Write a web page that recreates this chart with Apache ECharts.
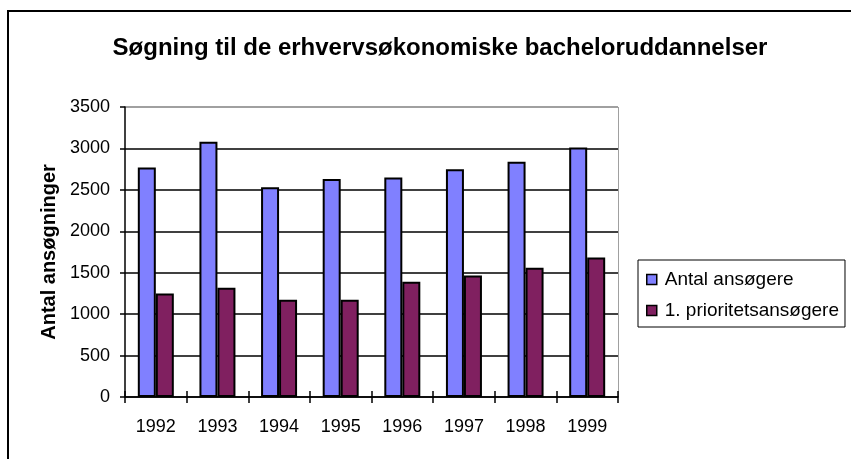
<!DOCTYPE html>
<html>
<head>
<meta charset="utf-8">
<script src="https://cdn.jsdelivr.net/npm/echarts@6/dist/echarts.min.js"></script>
<style>
html, body { margin: 0; padding: 0; background: #fff; }
#report { width: 851px; height: 459px; }
</style>
</head>
<body>
<div id="report"></div>
<script>
// data
var years = ['1992', '1993', '1994', '1995', '1996', '1997', '1998', '1999'];
var antalAnsogere = [2770, 3080, 2530, 2630, 2650, 2750, 2840, 3010];
var prioritetsAnsogere = [1250, 1320, 1175, 1175, 1390, 1465, 1560, 1685];
var yTicks = [0, 500, 1000, 1500, 2000, 2500, 3000, 3500];

var font = '"Liberation Sans", Arial, sans-serif';

var myChart = echarts.init(document.getElementById('report'));

// top line of plot area is grey (plot border), the rest black
var splitColors = yTicks.map(function (v, i) {
    return i === yTicks.length - 1 ? '#808080' : '#000';
});

var option = {
    animation: false,
    backgroundColor: '#fff',
    title: {
        text: 'Søgning til de erhvervsøkonomiske bacheloruddannelser',
        left: 435,
        top: 31,
        textAlign: 'center',
        textStyle: { fontFamily: font, fontSize: 24, fontWeight: 'bold', color: '#000' }
    },
    graphic: [{
        type: 'rect',
        shape: { x: 8, y: 11, width: 900, height: 500 },
        style: { fill: 'none', stroke: '#000', lineWidth: 2 },
        z: -1
    }, {
        // right edge of plot area
        type: 'line',
        shape: { x1: 618.5, y1: 107, x2: 618.5, y2: 397 },
        style: { stroke: '#a0a0a0', lineWidth: 1 },
        z: -1
    }],
    legend: {
        orient: 'vertical',
        left: 638,
        top: 260,
        padding: [10, 6, 7, 8],
        itemGap: 12,
        itemWidth: 10,
        itemHeight: 10,
        icon: 'rect',
        borderColor: '#000',
        borderWidth: 1,
        textStyle: { fontFamily: font, fontSize: 19, color: '#000', padding: [0, 0, 0, 3] },
        itemStyle: { borderColor: '#000', borderWidth: 1.5 }
    },
    grid: {
        left: 125,
        top: 107,
        right: 233,
        bottom: 62,
        containLabel: false
    },
    xAxis: [{
        type: 'category',
        data: years,
        axisLine: { show: true, lineStyle: { color: '#000', width: 1.5 } },
        axisTick: { show: true, length: 6, lineStyle: { color: '#000', width: 1.5 } },
        axisLabel: { fontFamily: font, fontSize: 18, color: '#000', margin: 21 }
    }, {
        // inside half of the crossing ticks
        type: 'category',
        data: years,
        position: 'bottom',
        axisLine: { show: false },
        axisTick: { show: true, inside: true, length: 6, lineStyle: { color: '#000', width: 1.5 } },
        axisLabel: { show: false },
        splitLine: { show: false }
    }],
    yAxis: {
        type: 'value',
        min: 0,
        max: 3500,
        interval: 500,
        name: 'Antal ansøgninger',
        nameLocation: 'middle',
        nameGap: 66,
        nameTextStyle: { fontFamily: font, fontSize: 20, fontWeight: 'bold', color: '#000', padding: [0, 0, 0, 0] },
        axisLine: { show: true, lineStyle: { color: '#000', width: 1.5 } },
        axisTick: { show: true, length: 5, lineStyle: { color: '#000', width: 1.5 } },
        axisLabel: {
            fontFamily: font, fontSize: 18, color: '#000', margin: 15,
            formatter: function (v) { return String(v); }
        },
        splitLine: { show: true, lineStyle: { color: splitColors, width: 1.5 } }
    },
    series: [{
        name: 'Antal ansøgere',
        type: 'bar',
        data: antalAnsogere,
        barWidth: 18,
        barGap: '0%',
        itemStyle: { color: '#8080ff', borderColor: '#000', borderWidth: 2 }
    }, {
        name: '1. prioritetsansøgere',
        type: 'bar',
        data: prioritetsAnsogere,
        barWidth: 18,
        barGap: '0%',
        itemStyle: { color: '#802060', borderColor: '#000', borderWidth: 2 }
    }]
};

myChart.setOption(option);
</script>
</body>
</html>
